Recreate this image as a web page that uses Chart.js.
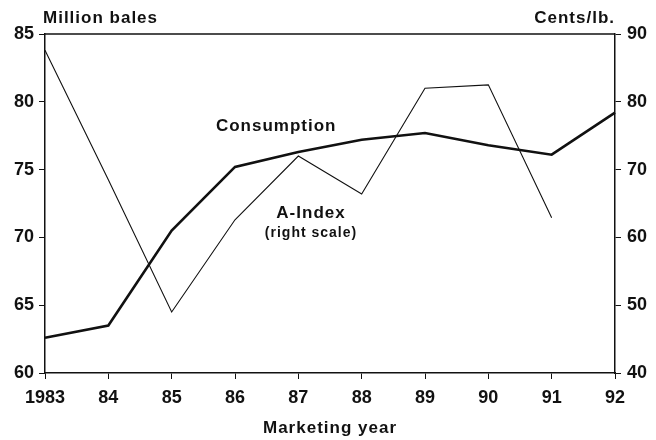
<!DOCTYPE html>
<html>
<head>
<meta charset="utf-8">
<script src="https://cdn.jsdelivr.net/npm/chart.js@4"></script>
<style>
  html, body { margin: 0; padding: 0; background: #fff; }
  #wrap { width: 656px; height: 440px; }
</style>
</head>
<body>
<div id="wrap"><canvas id="chart" width="656" height="440"></canvas></div>
<script>
// --- data ---
const years = ['1983', '84', '85', '86', '87', '88', '89', '90', '91', '92'];
const consumption = [62.6, 63.5, 70.5, 75.2, 76.3, 77.2, 77.7, 76.8, 76.1, 79.2]; // million bales, left
const aIndex = [87.6, 68.5, 49.0, 62.6, 72.0, 66.4, 82.0, 82.5, 62.9, null];     // cents/lb, right
const leftTicks = [60, 85, 5];
const rightTicks = [40, 90, 10];

const FONT = '"Liberation Sans", Arial, sans-serif';
const INK = '#111';

// frame + free text labels
const textPlugin = {
  id: 'textPlugin',
  afterDraw(chart) {
    const { ctx, chartArea: a, scales } = chart;
    ctx.save();
    ctx.strokeStyle = INK;
    ctx.lineWidth = 1.5;
    ctx.beginPath();
    ctx.moveTo(a.left, a.top);
    ctx.lineTo(a.right, a.top);
    ctx.stroke();

    ctx.fillStyle = INK;
    ctx.letterSpacing = '1px';
    ctx.textBaseline = 'middle';

    ctx.font = 'bold 17px ' + FONT;
    ctx.textAlign = 'left';
    ctx.fillText('Million bales', a.left - 2, 18);
    ctx.textAlign = 'right';
    ctx.fillText('Cents/lb.', a.right, 18);

    ctx.textAlign = 'center';
    ctx.fillText('Marketing year', (a.left + a.right) / 2, 428);

    // series labels, placed through the scales
    const x = scales.x, y = scales.y;
    ctx.fillText('Consumption', x.getPixelForValue(3.65), y.getPixelForValue(78.2));
    ctx.fillText('A-Index', x.getPixelForValue(4.2), y.getPixelForValue(71.8));
    ctx.font = 'bold 14px ' + FONT;
    ctx.fillText('(right scale)', x.getPixelForValue(4.2), y.getPixelForValue(70.3));
    ctx.restore();
  }
};

new Chart(document.getElementById('chart'), {
  type: 'line',
  data: {
    labels: years,
    datasets: [
      {
        label: 'Consumption',
        data: consumption,
        yAxisID: 'y',
        borderColor: INK,
        borderWidth: 2.6,
        pointRadius: 0,
        tension: 0
      },
      {
        label: 'A-Index',
        data: aIndex,
        yAxisID: 'y1',
        borderColor: INK,
        borderWidth: 1.1,
        pointRadius: 0,
        tension: 0
      }
    ]
  },
  options: {
    responsive: false,
    animation: false,
    layout: { padding: { top: 34, left: 0, right: 0, bottom: 0 } },
    plugins: {
      legend: { display: false },
      tooltip: { enabled: false }
    },
    scales: {
      x: {
        offset: false,
        grid: { display: true, drawOnChartArea: false, tickLength: 6, color: INK, lineWidth: 1 },
        border: { display: true, color: INK, width: 1.5 },
        ticks: { color: INK, font: { family: FONT, size: 18, weight: 'bold' }, padding: 8, maxRotation: 0, autoSkip: false },
        afterFit(s) { s.height = 67; }
      },
      y: {
        position: 'left',
        min: leftTicks[0], max: leftTicks[1],
        grid: { display: true, drawOnChartArea: false, tickLength: 6, color: INK, lineWidth: 1 },
        border: { display: true, color: INK, width: 1.5 },
        ticks: { stepSize: leftTicks[2], color: INK, font: { family: FONT, size: 18, weight: 'bold' }, padding: 5 },
        afterFit(s) { s.width = 45; }
      },
      y1: {
        position: 'right',
        min: rightTicks[0], max: rightTicks[1],
        grid: { display: true, drawOnChartArea: false, tickLength: 6, color: INK, lineWidth: 1 },
        border: { display: true, color: INK, width: 1.5 },
        ticks: { stepSize: rightTicks[2], color: INK, font: { family: FONT, size: 18, weight: 'bold' }, padding: 6 },
        afterFit(s) { s.width = 41; }
      }
    }
  },
  plugins: [textPlugin]
});
</script>
</body>
</html>
